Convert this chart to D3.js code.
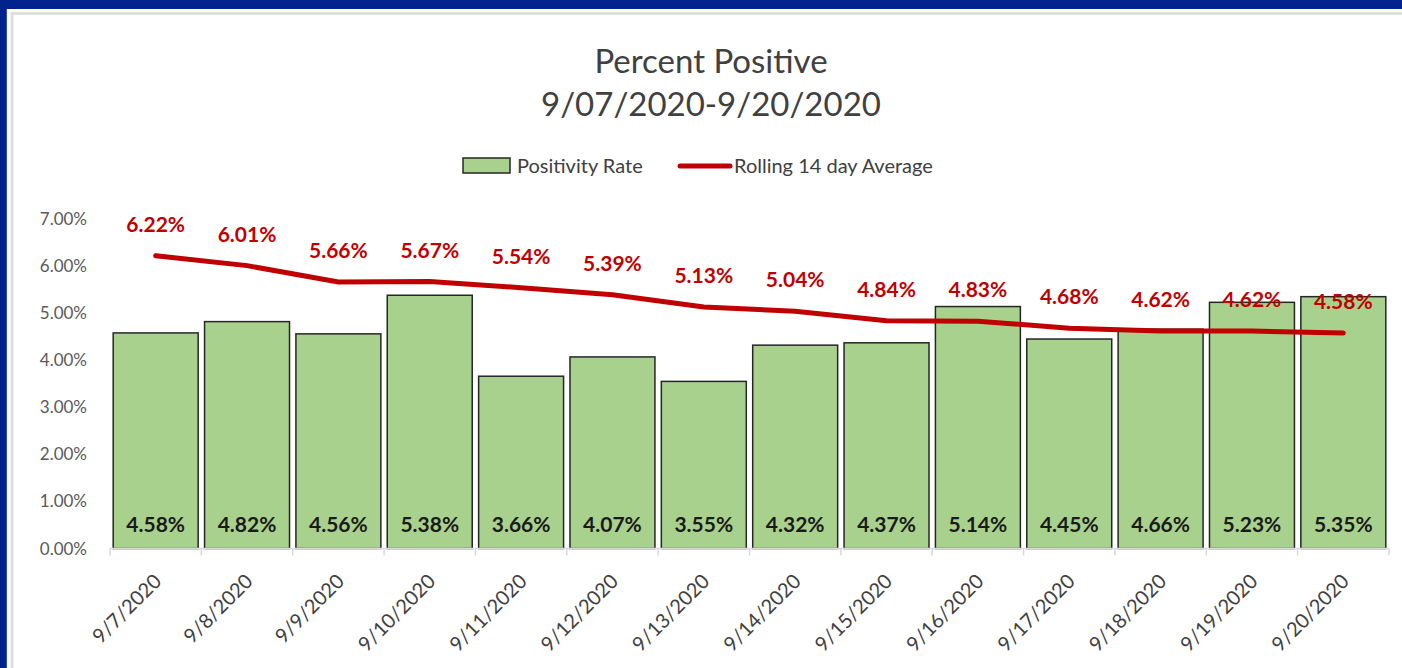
<!DOCTYPE html>
<html>
<head>
<meta charset="utf-8">
<script src="https://cdn.jsdelivr.net/npm/d3@7"></script>
<style>
  html, body { margin: 0; padding: 0; background: #00238c; }
  svg { display: block; font-family: Lato, "Open Sans", sans-serif; }
</style>
</head>
<body>
<svg id="chart"></svg>
<script>
// Chart data
const dates = ["9/7/2020", "9/8/2020", "9/9/2020", "9/10/2020", "9/11/2020", "9/12/2020", "9/13/2020",
  "9/14/2020", "9/15/2020", "9/16/2020", "9/17/2020", "9/18/2020", "9/19/2020", "9/20/2020"];
const positivityRate = [4.58, 4.82, 4.56, 5.38, 3.66, 4.07, 3.55, 4.32, 4.37, 5.14, 4.45, 4.66, 5.23, 5.35];
const rollingAverage = [6.22, 6.01, 5.66, 5.67, 5.54, 5.39, 5.13, 5.04, 4.84, 4.83, 4.68, 4.62, 4.62, 4.58];
const yTicks = [0, 1, 2, 3, 4, 5, 6, 7];

const width = 1402, height = 668;
const margin = { left: 110, right: 13, top: 219, bottom: 119.5 };

const svg = d3.select("#chart")
  .attr("width", width)
  .attr("height", height);

// Blue frame and white panel
svg.append("rect").attr("width", width).attr("height", height).attr("fill", "#00238c");
svg.append("rect").attr("x", 6).attr("y", 9).attr("width", 1).attr("height", height).attr("fill", "#3050b0");
svg.append("rect").attr("x", 7).attr("y", 9).attr("width", width).attr("height", height).attr("fill", "#ffffff");
svg.append("rect").attr("x", 12).attr("y", 13.5).attr("width", width).attr("height", height)
  .attr("fill", "none").attr("stroke", "#dedede").attr("stroke-width", 3);

// Scales
const x = d3.scaleBand()
  .domain(dates)
  .range([margin.left, width - margin.right])
  .paddingInner(0.07)
  .paddingOuter(0.035);

const y = d3.scaleLinear()
  .domain([0, 7])
  .range([height - margin.bottom, margin.top]);

// Title
const title = svg.append("text")
  .attr("text-anchor", "middle")
  .attr("fill", "#404040")
  .attr("font-size", "33px");
title.append("tspan").attr("x", 711).attr("y", 73).text("Percent Positive");
title.append("tspan").attr("x", 711).attr("y", 116).text("9/07/2020-9/20/2020");

// Legend
const legend = svg.append("g").attr("font-size", "20px").attr("fill", "#404040");
legend.append("rect")
  .attr("x", 463).attr("y", 158).attr("width", 47).attr("height", 15)
  .attr("fill", "#a9d18e").attr("stroke", "#262626").attr("stroke-width", 1.5);
legend.append("text").attr("x", 517).attr("y", 173).text("Positivity Rate");
legend.append("line")
  .attr("x1", 680).attr("x2", 730).attr("y1", 166).attr("y2", 166)
  .attr("stroke", "#c00000").attr("stroke-width", 5).attr("stroke-linecap", "round");
legend.append("text").attr("x", 734).attr("y", 173).text("Rolling 14 day Average");

// Y axis labels
svg.append("g")
  .selectAll("text")
  .data(yTicks)
  .enter()
  .append("text")
  .attr("x", 87)
  .attr("y", d => y(d) + 6)
  .attr("text-anchor", "end")
  .attr("font-size", "17px")
  .attr("fill", "#595959")
  .text(d => d3.format(".2f")(d) + "%");

// Bars
svg.append("g")
  .selectAll("rect")
  .data(positivityRate)
  .enter()
  .append("rect")
  .attr("x", (d, i) => x(dates[i]))
  .attr("y", d => y(d))
  .attr("width", x.bandwidth())
  .attr("height", d => y(0) - y(d))
  .attr("fill", "#a9d18e")
  .attr("stroke", "#262626")
  .attr("stroke-width", 1.5);

// X axis line and ticks
const xAxis = svg.append("g").attr("stroke", "#d9d9d9").attr("stroke-width", 1.5);
xAxis.append("line")
  .attr("x1", margin.left).attr("x2", width - margin.right)
  .attr("y1", y(0)).attr("y2", y(0));
const step = x.step();
xAxis.selectAll("line.tick")
  .data(d3.range(dates.length + 1))
  .enter()
  .append("line")
  .attr("class", "tick")
  .attr("x1", i => margin.left + i * step)
  .attr("x2", i => margin.left + i * step)
  .attr("y1", y(0))
  .attr("y2", y(0) + 7);

// X labels
svg.append("g")
  .selectAll("text")
  .data(dates)
  .enter()
  .append("text")
  .attr("transform", d => `translate(${x(d) + x.bandwidth() / 2 + 7}, ${y(0) + 34}) rotate(-45)`)
  .attr("text-anchor", "end")
  .attr("font-size", "20px")
  .attr("fill", "#404040")
  .text(d => d);

// Bar value labels
svg.append("g")
  .selectAll("text")
  .data(positivityRate)
  .enter()
  .append("text")
  .attr("x", (d, i) => x(dates[i]) + x.bandwidth() / 2)
  .attr("y", y(0) - 16.5)
  .attr("text-anchor", "middle")
  .attr("font-size", "21px")
  .attr("font-weight", "bold")
  .attr("fill", "#1a1a1a")
  .text(d => d.toFixed(2) + "%");

// Rolling average line
const line = d3.line()
  .x((d, i) => x(dates[i]) + x.bandwidth() / 2)
  .y(d => y(d));

svg.append("path")
  .datum(rollingAverage)
  .attr("d", line)
  .attr("fill", "none")
  .attr("stroke", "#c00000")
  .attr("stroke-width", 5)
  .attr("stroke-linecap", "round");

// Line value labels
svg.append("g")
  .selectAll("text")
  .data(rollingAverage)
  .enter()
  .append("text")
  .attr("x", (d, i) => x(dates[i]) + x.bandwidth() / 2)
  .attr("y", d => y(d) - 24)
  .attr("text-anchor", "middle")
  .attr("font-size", "21px")
  .attr("font-weight", "bold")
  .attr("fill", "#c00000")
  .text(d => d.toFixed(2) + "%");
</script>
</body>
</html>
